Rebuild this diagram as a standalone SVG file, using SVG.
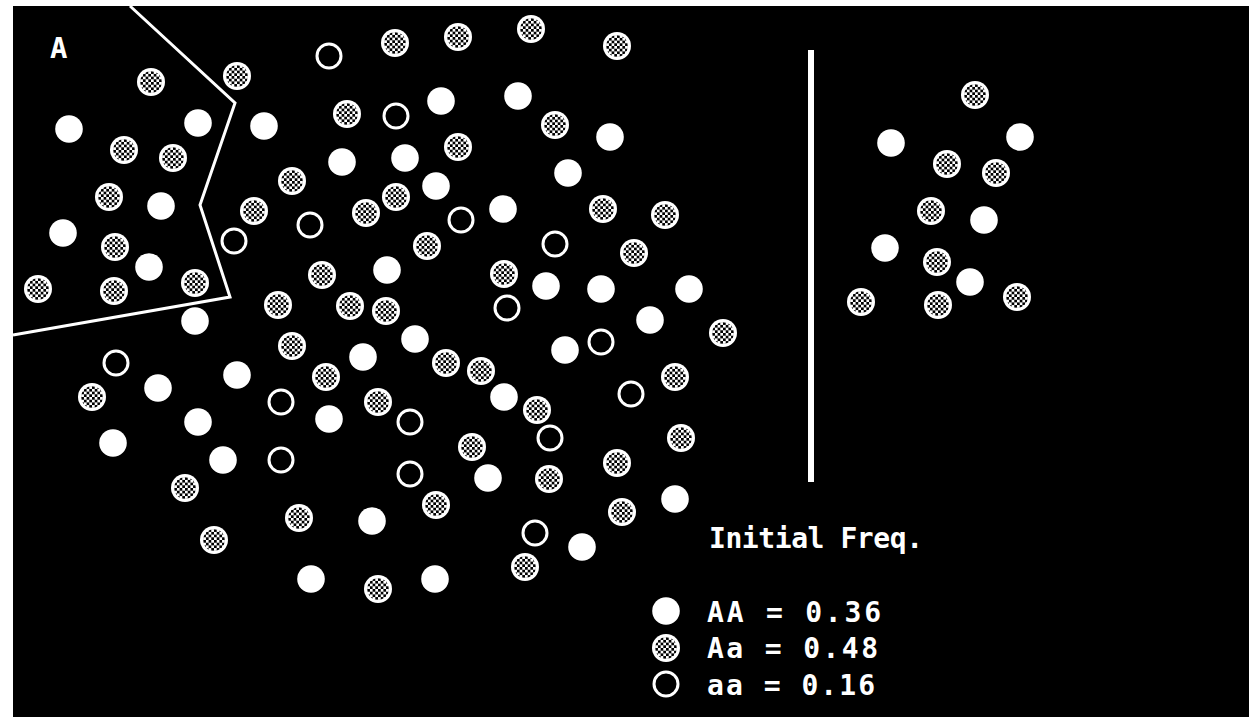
<svg xmlns="http://www.w3.org/2000/svg" xmlns:xlink="http://www.w3.org/1999/xlink" width="1249" height="717" viewBox="0 0 1249 717">
<defs>
<pattern id="chk" width="5.4" height="5.4" patternUnits="userSpaceOnUse">
<rect width="5.4" height="5.4" fill="#fff"/>
<rect width="2.7" height="2.7" fill="#000"/>
<rect x="2.7" y="2.7" width="2.7" height="2.7" fill="#000"/>
</pattern>
<g id="AA"><circle r="13.8" fill="#fff"/></g>
<g id="Aa"><circle r="14" fill="#fff"/><circle r="10.8" fill="url(#chk)"/></g>
<g id="aa"><circle r="12" fill="none" stroke="#fff" stroke-width="3"/></g>
<style>
.t{font-family:"DejaVu Sans Mono","Liberation Mono",monospace;font-weight:bold;fill:#fff}
</style>
</defs>
<rect x="0" y="0" width="1249" height="717" fill="#fff"/>
<rect x="13" y="6" width="1236" height="711" fill="#000"/>
<polyline points="130,6 235,103 200,205 230,297 13,335" fill="none" stroke="#fff" stroke-width="3" stroke-linejoin="miter"/>
<rect x="808" y="50" width="6" height="432" fill="#fff"/>
<text class="t" x="50" y="58" font-size="29">A</text>
<g id="dots-AA">
<use href="#AA" x="69" y="129"/><use href="#AA" x="198" y="123"/><use href="#AA" x="264" y="126"/>
<use href="#AA" x="161" y="206"/><use href="#AA" x="63" y="233"/><use href="#AA" x="149" y="267"/>
<use href="#AA" x="195" y="321"/><use href="#AA" x="342" y="162"/><use href="#AA" x="405" y="158"/>
<use href="#AA" x="441" y="101"/><use href="#AA" x="436" y="186"/><use href="#AA" x="518" y="96"/>
<use href="#AA" x="610" y="137"/><use href="#AA" x="568" y="173"/><use href="#AA" x="503" y="209"/>
<use href="#AA" x="387" y="270"/><use href="#AA" x="546" y="286"/><use href="#AA" x="601" y="289"/>
<use href="#AA" x="689" y="289"/><use href="#AA" x="650" y="320"/><use href="#AA" x="565" y="350"/>
<use href="#AA" x="415" y="339"/><use href="#AA" x="363" y="357"/><use href="#AA" x="237" y="375"/>
<use href="#AA" x="158" y="388"/><use href="#AA" x="198" y="422"/><use href="#AA" x="113" y="443"/>
<use href="#AA" x="223" y="460"/><use href="#AA" x="329" y="419"/><use href="#AA" x="504" y="397"/>
<use href="#AA" x="488" y="478"/><use href="#AA" x="372" y="521"/><use href="#AA" x="311" y="579"/>
<use href="#AA" x="435" y="579"/><use href="#AA" x="582" y="547"/><use href="#AA" x="675" y="499"/>
<use href="#AA" x="891" y="143"/><use href="#AA" x="1020" y="137"/><use href="#AA" x="984" y="220"/>
<use href="#AA" x="885" y="248"/><use href="#AA" x="970" y="282"/>
</g>
<g id="dots-Aa">
<use href="#Aa" x="151" y="82"/><use href="#Aa" x="237" y="76"/><use href="#Aa" x="124" y="150"/>
<use href="#Aa" x="173" y="158"/><use href="#Aa" x="109" y="197"/><use href="#Aa" x="115" y="247"/>
<use href="#Aa" x="38" y="289"/><use href="#Aa" x="114" y="291"/><use href="#Aa" x="195" y="283"/>
<use href="#Aa" x="395" y="43"/><use href="#Aa" x="458" y="37"/><use href="#Aa" x="531" y="29"/>
<use href="#Aa" x="617" y="46"/><use href="#Aa" x="347" y="114"/><use href="#Aa" x="555" y="125"/>
<use href="#Aa" x="458" y="147"/><use href="#Aa" x="292" y="181"/><use href="#Aa" x="396" y="197"/>
<use href="#Aa" x="366" y="213"/><use href="#Aa" x="254" y="211"/><use href="#Aa" x="603" y="209"/>
<use href="#Aa" x="665" y="215"/><use href="#Aa" x="427" y="246"/><use href="#Aa" x="634" y="253"/>
<use href="#Aa" x="322" y="275"/><use href="#Aa" x="504" y="274"/><use href="#Aa" x="278" y="305"/>
<use href="#Aa" x="350" y="306"/><use href="#Aa" x="386" y="311"/><use href="#Aa" x="292" y="346"/>
<use href="#Aa" x="446" y="363"/><use href="#Aa" x="481" y="371"/><use href="#Aa" x="326" y="377"/>
<use href="#Aa" x="723" y="333"/><use href="#Aa" x="675" y="377"/><use href="#Aa" x="92" y="397"/>
<use href="#Aa" x="378" y="402"/><use href="#Aa" x="537" y="410"/><use href="#Aa" x="681" y="438"/>
<use href="#Aa" x="472" y="447"/><use href="#Aa" x="617" y="463"/><use href="#Aa" x="549" y="479"/>
<use href="#Aa" x="185" y="488"/><use href="#Aa" x="436" y="505"/><use href="#Aa" x="299" y="518"/>
<use href="#Aa" x="622" y="512"/><use href="#Aa" x="214" y="540"/><use href="#Aa" x="525" y="567"/>
<use href="#Aa" x="378" y="589"/>
<use href="#Aa" x="975" y="95"/><use href="#Aa" x="947" y="164"/><use href="#Aa" x="996" y="173"/>
<use href="#Aa" x="931" y="211"/><use href="#Aa" x="937" y="262"/><use href="#Aa" x="861" y="302"/>
<use href="#Aa" x="938" y="305"/><use href="#Aa" x="1017" y="297"/>
</g>
<g id="dots-aa">
<use href="#aa" x="329" y="56"/><use href="#aa" x="396" y="116"/><use href="#aa" x="461" y="220"/>
<use href="#aa" x="310" y="225"/><use href="#aa" x="234" y="241"/><use href="#aa" x="555" y="244"/>
<use href="#aa" x="507" y="308"/><use href="#aa" x="601" y="342"/><use href="#aa" x="116" y="363"/>
<use href="#aa" x="631" y="394"/><use href="#aa" x="281" y="402"/><use href="#aa" x="410" y="422"/>
<use href="#aa" x="550" y="438"/><use href="#aa" x="281" y="460"/><use href="#aa" x="410" y="474"/>
<use href="#aa" x="535" y="533"/>
</g>
<g id="legend">
<text class="t" x="709" y="548" font-size="28" textLength="214" lengthAdjust="spacing">Initial Freq.</text>
<use href="#AA" x="666" y="611"/>
<use href="#Aa" x="666" y="648"/>
<use href="#aa" x="666" y="684"/>
<text class="t" x="707" y="622" font-size="28" textLength="174" lengthAdjust="spacing">AA = 0.36</text>
<text class="t" x="707" y="658" font-size="28" textLength="171" lengthAdjust="spacing">Aa = 0.48</text>
<text class="t" x="707" y="695" font-size="28" textLength="168" lengthAdjust="spacing">aa = 0.16</text>
</g>
</svg>
